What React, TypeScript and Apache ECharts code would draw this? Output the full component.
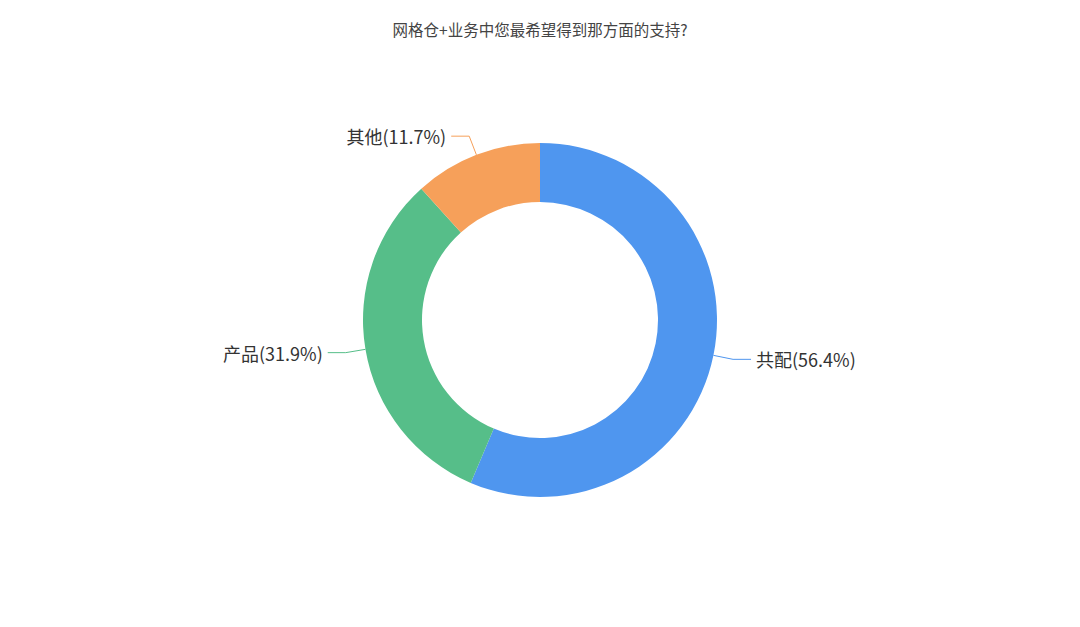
import React, { useEffect, useRef } from "react";
import * as echarts from "echarts";

const categories = ["共配", "产品", "其他"];
const values = [56.4, 31.9, 11.7];
const colors = ["#4F96EF", "#56BE89", "#F6A05A"];

const App: React.FC = () => {
  const chartRef = useRef<HTMLDivElement>(null);

  useEffect(() => {
    document.body.style.margin = "0";
    const chart = echarts.init(chartRef.current!, undefined, { renderer: "svg" });

    chart.setOption({
      animation: false,
      backgroundColor: "#fff",
      textStyle: { fontFamily: "'Noto Sans CJK SC', sans-serif" },
      title: {
        text: "网格仓+业务中您最希望得到那方面的支持?",
        left: "center",
        top: 16,
        textStyle: { fontSize: 15.5, fontWeight: "normal", color: "#444" },
      },
      series: [
        {
          type: "pie",
          center: [540, 320],
          radius: [118, 177],
          startAngle: 90,
          color: colors,
          label: {
            formatter: (p: any) => `${p.name}(${p.value}%)`,
            fontSize: 18,
            color: "#333",
          },
          labelLine: { length: 20, length2: 18, lineStyle: { width: 1 } },
          data: categories.map((name, i) => ({ name, value: values[i] })),
        },
      ],
    });

    return () => {
      chart.dispose();
    };
  }, []);

  return <div ref={chartRef} style={{ width: 1080, height: 627 }} />;
};

export default App;
